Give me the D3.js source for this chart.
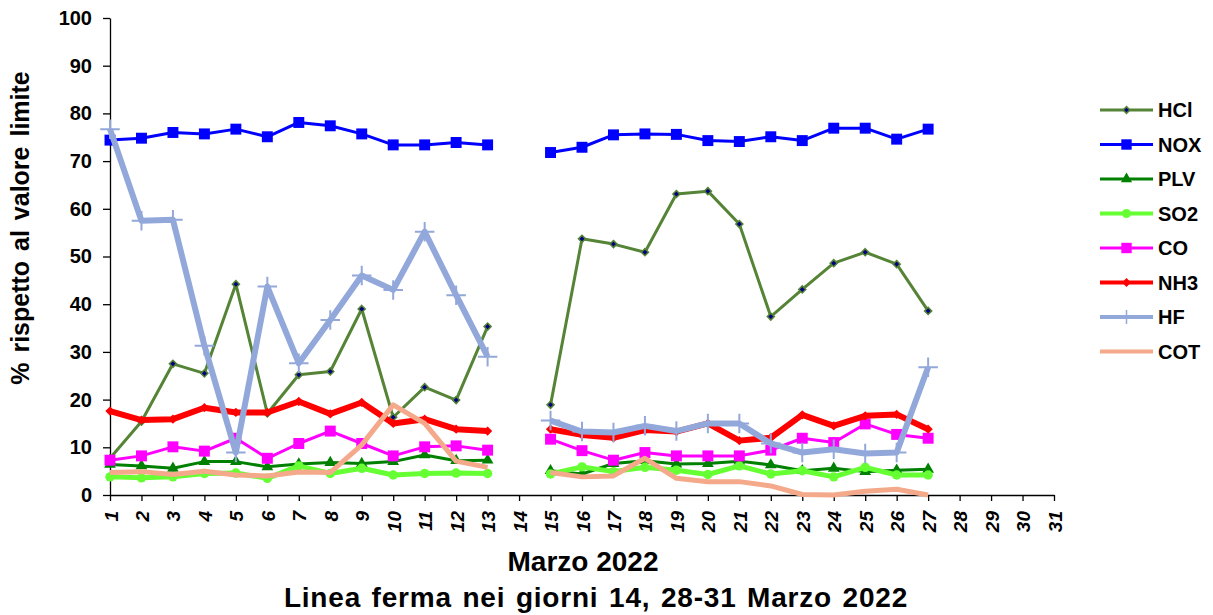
<!DOCTYPE html>
<head>
  <meta charset="utf-8">
  <title>Marzo 2022 - % rispetto al valore limite</title>
  <script src="https://d3js.org/d3.v7.min.js"></script>
  <style>
    body { margin: 0; background: #fff; }
    text { font-family: "Liberation Sans", Arial, sans-serif; font-weight: bold; fill: #000; }
    .axis path, .axis line { stroke: #000; stroke-width: 1.3; }
    .axis text { font-size: 20px; }
  </style>
</head>
<body>
  <svg width="1213" height="615"></svg>
  <script>
    // giorni di marzo (14 e 28-31 linea ferma -> null)
    const days = d3.range(1, 32);
    const yTicks = [0, 10, 20, 30, 40, 50, 60, 70, 80, 90, 100];

    const hcl = [7.7, 15.4, 27.5, 25.5, 44.2, 17.1, 25.2, 25.9, 39.0, 16.3, 22.6, 19.9, 35.3, null,
      18.9, 53.7, 52.6, 50.9, 63.1, 63.7, 56.8, 37.4, 43.1, 48.6, 50.9, 48.4, 38.6, null, null, null, null];
    const nox = [74.4, 74.8, 76.0, 75.7, 76.7, 75.1, 78.1, 77.4, 75.7, 73.4, 73.4, 73.9, 73.4, null,
      71.8, 72.9, 75.5, 75.7, 75.6, 74.3, 74.1, 75.1, 74.3, 76.9, 76.9, 74.6, 76.7, null, null, null, null];
    const plv = [6.4, 6.1, 5.6, 7.0, 7.0, 5.9, 6.5, 6.8, 6.6, 7.0, 8.4, 7.2, 7.3, null,
      5.1, 4.4, 6.6, 7.2, 6.5, 6.6, 7.1, 6.3, 5.1, 5.6, 4.9, 5.2, 5.4, null, null, null, null];
    const so2 = [3.8, 3.6, 3.8, 4.5, 4.6, 3.5, 6.1, 4.5, 5.6, 4.2, 4.5, 4.6, 4.5, null,
      4.4, 5.9, 4.9, 5.8, 5.2, 4.3, 6.1, 4.4, 5.1, 3.8, 5.8, 4.2, 4.2, null, null, null, null];
    const co = [7.3, 8.2, 10.1, 9.2, 11.9, 7.7, 10.8, 13.4, 10.8, 8.2, 10.1, 10.3, 9.4, null,
      11.7, 9.3, 7.3, 8.9, 8.2, 8.2, 8.2, 9.4, 11.9, 11.0, 14.9, 12.7, 11.9, null, null, null, null];
    const nh3 = [17.6, 15.7, 15.9, 18.3, 17.3, 17.3, 19.6, 17.0, 19.4, 15.0, 15.9, 13.8, 13.4, null,
      13.8, 12.6, 12.0, 13.6, 13.3, 15.0, 11.4, 12.0, 16.8, 14.5, 16.6, 16.9, 13.8, null, null, null, null];
    const hf = [76.7, 57.5, 57.7, 31.3, 8.9, 43.7, 27.6, 36.7, 46.0, 43.0, 55.2, 41.9, 29.0, null,
      15.6, 13.3, 13.1, 14.5, 13.4, 15.0, 15.0, 10.8, 8.9, 9.6, 8.7, 8.9, 26.8, null, null, null, null];
    const cot = [4.7, 4.9, 4.3, 5.0, 4.2, 4.0, 4.8, 4.7, 10.5, 18.9, 15.0, 7.1, 5.8, null,
      4.7, 3.8, 4.0, 7.7, 3.5, 2.8, 2.8, 1.9, 0.1, 0.0, 0.8, 1.2, 0.0, null, null, null, null];

    const plus = { draw(ctx, size) { const r = Math.sqrt(size) / 2; ctx.moveTo(-r, 0); ctx.lineTo(r, 0); ctx.moveTo(0, -r); ctx.lineTo(0, r); } };

    // name, values, style
    const series = [
      { name: "HCl", values: hcl, color: "#558436", width: 3, sym: d3.symbolDiamond2, size: 32, fill: "#000080", stroke: "#558436" },
      { name: "NOX", values: nox, color: "#0000FF", width: 3, sym: d3.symbolSquare, size: 120, fill: "#0000FF", stroke: "none" },
      { name: "PLV", values: plv, color: "#008000", width: 3, sym: d3.symbolTriangle, size: 60, fill: "#008000", stroke: "none" },
      { name: "SO2", values: so2, color: "#66FF33", width: 5, sym: d3.symbolCircle, size: 70, fill: "#66FF33", stroke: "none" },
      { name: "CO", values: co, color: "#FF00FF", width: 3, sym: d3.symbolSquare, size: 120, fill: "#FF00FF", stroke: "none" },
      { name: "NH3", values: nh3, color: "#FF0000", width: 6, sym: d3.symbolDiamond2, size: 55, fill: "#FF0000", stroke: "none" },
      { name: "HF", values: hf, color: "#93A8DA", width: 6, sym: plus, size: 380, fill: "none", stroke: "#93A8DA" },
      { name: "COT", values: cot, color: "#F4A98A", width: 5, sym: null }
    ];

    const svg = d3.select("svg"),
      margin = { top: 18, left: 110 },
      width = 944,
      height = 477,
      x = d3.scalePoint().domain(days).range([0, width]),
      y = d3.scaleLinear().domain([0, 100]).range([height, 0]),
      g = svg.append("g").attr("transform", `translate(${margin.left},${margin.top})`);

    // axes
    const gx = g.append("g")
      .attr("class", "axis axis-x")
      .attr("transform", `translate(0,${height})`)
      .call(d3.axisBottom(x).tickSize(6).tickSizeOuter(0));
    gx.selectAll("text")
      .attr("x", 0).attr("y", 0).attr("dy", "0")
      .attr("text-anchor", "end")
      .style("font-size", "19px")
      .style("font-style", "italic")
      .attr("transform", "translate(7,16) rotate(-90)");

    g.append("g")
      .attr("class", "axis axis-y")
      .call(d3.axisLeft(y).tickValues(yTicks).tickSize(7).tickSizeOuter(0).tickPadding(11));

    // series
    const line = d3.line()
      .defined(d => d.v !== null)
      .x(d => x(d.day))
      .y(d => y(d.v));

    series.forEach(s => {
      const pts = days.map((day, i) => ({ day: day, v: s.values[i] }));
      g.append("path")
        .datum(pts)
        .attr("fill", "none")
        .attr("stroke", s.color)
        .attr("stroke-width", s.width)
        .attr("stroke-linejoin", "round")
        .attr("d", line);
      if (s.sym) {
        g.selectAll(null)
          .data(pts.filter(d => d.v !== null))
          .enter().append("path")
          .attr("transform", d => `translate(${x(d.day)},${y(d.v)})`)
          .attr("d", d3.symbol().type(s.sym).size(s.size))
          .attr("fill", s.fill)
          .attr("stroke", s.stroke)
          .attr("stroke-width", s.sym === plus ? 2 : 1.5);
      }
    });

    // legend
    const legend = svg.append("g").attr("transform", "translate(1100,110)");
    const item = legend.selectAll("g")
      .data(series)
      .enter().append("g")
      .attr("transform", (d, i) => `translate(0,${i * 34.5})`);
    item.append("line")
      .attr("x1", 0).attr("x2", 53)
      .attr("stroke", d => d.color)
      .attr("stroke-width", d => Math.min(d.width, 4));
    item.filter(d => d.sym).append("path")
      .attr("transform", "translate(26.5,0)")
      .attr("d", d => d3.symbol().type(d.sym).size(d.sym === plus ? 200 : d.size * 0.9)())
      .attr("fill", d => d.fill)
      .attr("stroke", d => d.stroke)
      .attr("stroke-width", 1.5);
    item.append("text")
      .attr("x", 58)
      .attr("dy", "0.36em")
      .style("font-size", "20px")
      .text(d => d.name);

    // titles
    svg.append("text")
      .attr("transform", "translate(29,228) rotate(-90)")
      .attr("text-anchor", "middle")
      .style("font-size", "25px")
      .style("word-spacing", "3px")
      .text("% rispetto al valore limite");

    svg.append("text")
      .attr("x", 583).attr("y", 571)
      .attr("text-anchor", "middle")
      .style("font-size", "28px")
      .text("Marzo 2022");
    svg.append("text")
      .attr("x", 596).attr("y", 607)
      .attr("text-anchor", "middle")
      .style("font-size", "28px")
      .style("letter-spacing", "0.8px")
      .style("word-spacing", "2px")
      .text("Linea ferma nei giorni 14, 28-31 Marzo 2022");
  </script>
</body>
